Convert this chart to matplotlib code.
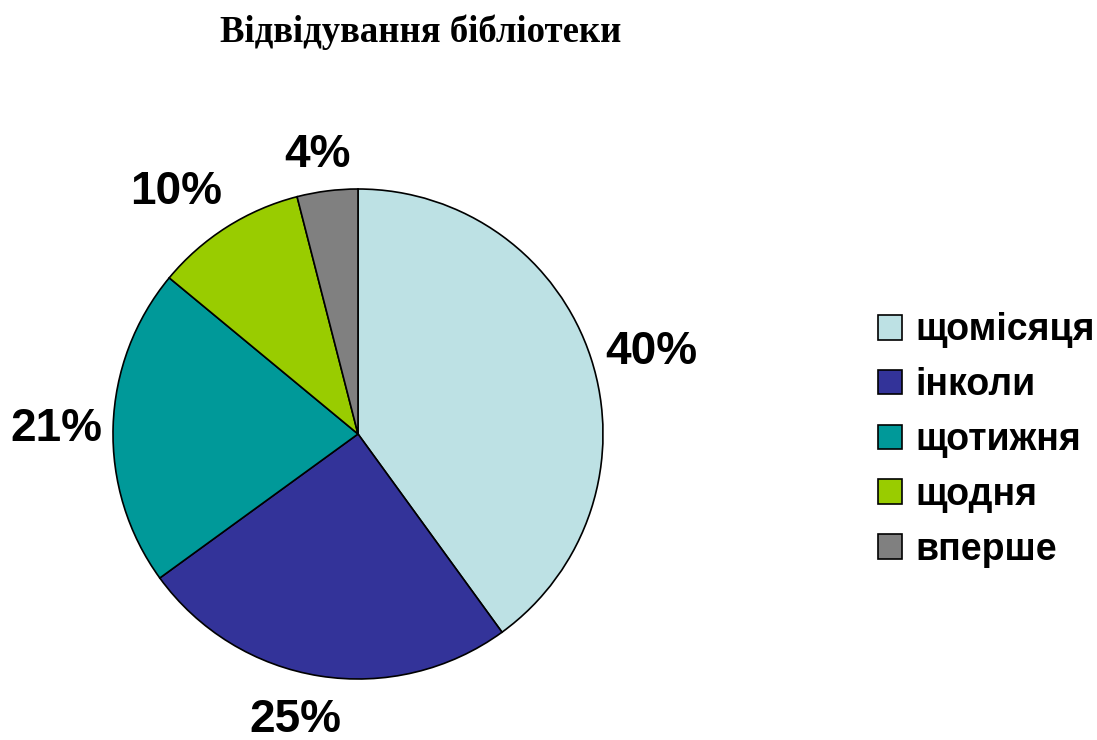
import numpy as np
import matplotlib.pyplot as plt

categories = ['щомісяця', 'інколи', 'щотижня', 'щодня', 'вперше']
values = [40, 25, 21, 10, 4]
colors = ['#BDE1E4', '#333399', '#009999', '#99CC00', '#808080']

# where each percentage label sits: distance in pie radii, angle nudge in degrees
label_dist = [1.25, 1.175, 1.23, 1.25, 1.17]
label_nudge = [-1.5, -3.5, 0, 4, 1]

fig = plt.figure(figsize=(10.97, 7.40), dpi=100)
ax = fig.add_axes([113 / 1097, 61 / 740, 490 / 1097, 490 / 740])

wedges, texts, autotexts = ax.pie(
    values, colors=colors, startangle=90, counterclock=False,
    autopct='%d%%',
    wedgeprops={'edgecolor': 'black', 'linewidth': 1.2},
    textprops={'fontsize': 33, 'fontweight': 'bold',
               'family': 'Liberation Sans'})

for w, t, d, n in zip(wedges, autotexts, label_dist, label_nudge):
    ang = np.deg2rad((w.theta1 + w.theta2) / 2 + n)
    t.set_position((d * np.cos(ang), d * np.sin(ang) - 0.02))

ax.set_xlim(-1, 1)
ax.set_ylim(-1, 1)
ax.set_aspect('equal')

fig.text(421 / 1097, 1 - 32 / 740, 'Відвідування бібліотеки',
         ha='center', va='center', fontsize=26.5, fontweight='bold',
         family='Liberation Serif')

leg = fig.legend(wedges, categories, loc='center left',
                 bbox_to_anchor=(878 / 1097, 1 - 440 / 740),
                 frameon=False, borderaxespad=0, borderpad=0,
                 handlelength=0.63, handleheight=0.63,
                 handletextpad=0.36, labelspacing=0.5,
                 prop={'family': 'Liberation Sans', 'weight': 'bold', 'size': 27})

fig.savefig('out.png', dpi=100)
